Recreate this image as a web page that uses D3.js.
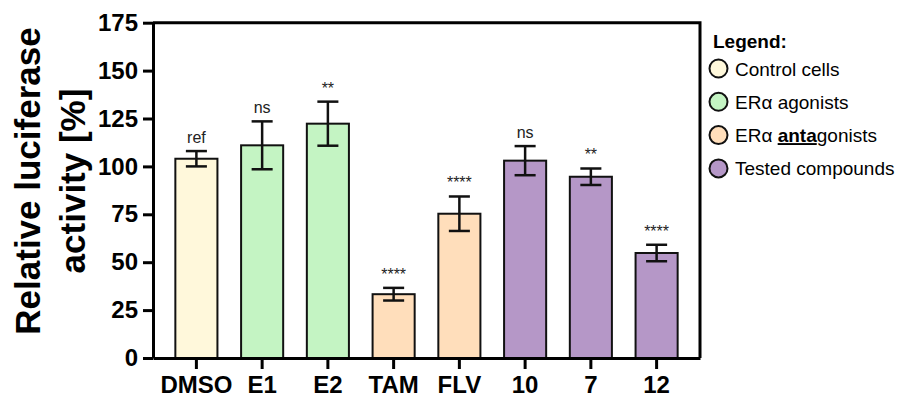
<!DOCTYPE html>
<html>
<head>
<meta charset="utf-8">
<script src="https://cdn.jsdelivr.net/npm/d3@7"></script>
<style>
  body { margin: 0; background: #fff; }
  text { font-family: Arial, "Liberation Sans", sans-serif; }
</style>
</head>
<body>
<div id="chart"></div>
<script>
// donnees
const categories = ["DMSO", "E1", "E2", "TAM", "FLV", "10", "7", "12"]
const means = [104, 111, 122.3, 33.3, 75.3, 103, 94.6, 54.8]
const errors = [4, 12.5, 11.5, 3.3, 9, 7.6, 4.3, 4.3]
const barGroup = [0, 1, 1, 2, 2, 3, 3, 3]
const significance = ["ref", "ns", "**", "****", "****", "ns", "**", "****"]
const groupNames = ["Control cells", "ERα agonists", "ERα antagonists", "Tested compounds"]
const groupColors = ["#FFF8DB", "#C4F4C3", "#FFDEBB", "#B597C7"]
const yTicks = [0, 25, 50, 75, 100, 125, 150, 175]

const W = 904, H = 397
const margin = { top: 22.7, right: 204, bottom: 39, left: 153 }
const width = W - margin.left - margin.right
const height = H - margin.top - margin.bottom

const svg = d3.select("#chart")
    .append("svg")
    .attr("width", W)
    .attr("height", H)

const g = svg.append("g")
    .attr("transform", "translate(" + margin.left + "," + margin.top + ")")

// echelles
const x = d3.scaleBand()
    .domain(categories)
    .range([0, width])
    .paddingInner(0.36)
    .paddingOuter(0.34)

const y = d3.scaleLinear()
    .domain([0, 175])
    .range([height, 0])

// barres
g.append("g")
    .selectAll("rect")
    .data(categories)
    .join("rect")
    .attr("x", d => x(d))
    .attr("y", (d, i) => y(means[i]))
    .attr("width", x.bandwidth())
    .attr("height", (d, i) => height - y(means[i]))
    .attr("fill", (d, i) => groupColors[barGroup[i]])
    .attr("stroke", "#111")
    .attr("stroke-width", 2)

// barres d'erreur
const capW = x.bandwidth() / 2
const err = g.append("g")
    .attr("stroke", "#111")
    .attr("stroke-width", 2.5)
    .attr("fill", "none")
categories.forEach((c, i) => {
    const cx = x(c) + x.bandwidth() / 2
    const top = y(means[i] + errors[i])
    const bot = y(means[i] - errors[i])
    err.append("line").attr("x1", cx).attr("x2", cx).attr("y1", top).attr("y2", bot)
    err.append("line").attr("x1", cx - capW / 2).attr("x2", cx + capW / 2).attr("y1", top).attr("y2", top)
    err.append("line").attr("x1", cx - capW / 2).attr("x2", cx + capW / 2).attr("y1", bot).attr("y2", bot)
})

// significativite
g.append("g")
    .selectAll("text")
    .data(categories)
    .join("text")
    .attr("x", d => x(d) + x.bandwidth() / 2)
    .attr("y", (d, i) => y(means[i] + errors[i]) - 8)
    .attr("text-anchor", "middle")
    .attr("font-size", 16)
    .attr("fill", "#222")
    .text((d, i) => significance[i])

// axe y
const yAxis = g.append("g")
    .call(d3.axisLeft(y).tickValues(yTicks).tickSize(10).tickPadding(5).tickSizeOuter(0))
yAxis.select(".domain").attr("stroke-width", 3).attr("stroke", "#000")
yAxis.selectAll(".tick line").attr("stroke-width", 3).attr("stroke", "#000")
yAxis.selectAll(".tick text")
    .attr("font-size", 24)
    .attr("font-weight", "bold")
    .attr("fill", "#000")
    .style("font-family", "Arial, 'Liberation Sans', sans-serif")

// axe x
const xAxis = g.append("g")
    .attr("transform", "translate(0," + height + ")")
    .call(d3.axisBottom(x).tickSize(11).tickPadding(7).tickSizeOuter(0))
xAxis.select(".domain").attr("stroke-width", 3).attr("stroke", "#000")
xAxis.selectAll(".tick line").attr("stroke-width", 3).attr("stroke", "#000")
xAxis.selectAll(".tick text")
    .attr("font-size", 24)
    .attr("font-weight", "bold")
    .attr("fill", "#000")
    .style("font-family", "Arial, 'Liberation Sans', sans-serif")

// cadre haut et droite
g.append("path")
    .attr("d", "M0,0H" + width + "V" + height)
    .attr("fill", "none")
    .attr("stroke", "#000")
    .attr("stroke-width", 3)

// titre axe y
const yTitle = svg.append("text")
    .attr("transform", "translate(0,181) rotate(-90)")
    .attr("text-anchor", "middle")
    .attr("font-size", 35)
    .attr("font-weight", "bold")
yTitle.append("tspan").attr("x", 0).attr("y", 40).text("Relative luciferase")
yTitle.append("tspan").attr("x", 0).attr("y", 85).text("activity [%]")

// legende
const legend = svg.append("g")
legend.append("text")
    .attr("x", 713)
    .attr("y", 48)
    .attr("font-size", 19)
    .attr("font-weight", "bold")
    .text("Legend:")

groupNames.forEach((name, i) => {
    const cy = 68.5 + i * 33.3
    legend.append("circle")
        .attr("cx", 718.5)
        .attr("cy", cy)
        .attr("r", 9)
        .attr("fill", groupColors[i])
        .attr("stroke", "#111")
        .attr("stroke-width", 2)
    const t = legend.append("text")
        .attr("x", 735)
        .attr("y", cy + 7)
        .attr("font-size", 19)
    if (i == 2) {
        t.append("tspan").text("ERα ")
        t.append("tspan").attr("font-weight", "bold").style("text-decoration", "underline").text("anta")
        t.append("tspan").text("gonists")
    } else {
        t.text(name)
    }
})
</script>
</body>
</html>
